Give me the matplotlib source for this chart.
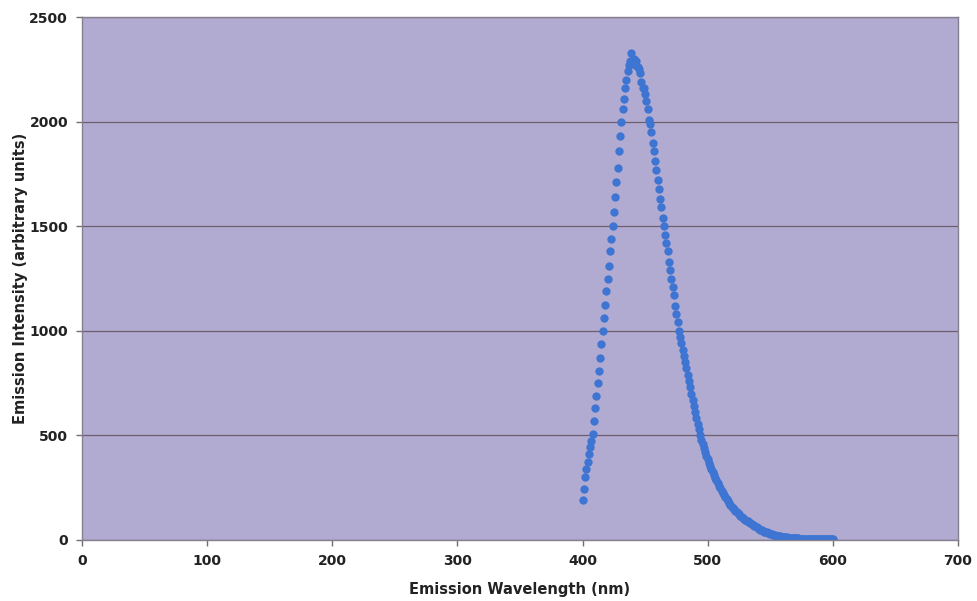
import matplotlib.pyplot as plt
import numpy as np

# Emission spectrum (1 nm steps, 400-600 nm)
wavelength = np.arange(400, 601)

rise = [190, 245, 300, 340, 375, 410, 445, 475, 505, 570,
        630, 690, 750, 810, 870, 935, 1000, 1060, 1125, 1190,
        1250, 1310, 1380, 1440, 1500, 1570, 1640, 1710, 1780, 1860,
        1930, 2000, 2060, 2110, 2160, 2200, 2240, 2270, 2290, 2330]
peak = [2280, 2300, 2270, 2290, 2260, 2250, 2230, 2190, 2160, 2160,
        2130, 2100, 2060, 2010, 1990]
fall = [1950, 1900, 1860, 1810, 1770, 1720, 1680, 1630, 1590, 1540,
        1500, 1460, 1420, 1380, 1330, 1290, 1250, 1210, 1170, 1120,
        1080, 1040, 1000, 970, 940, 910, 880, 850, 820, 790,
        760, 730, 700, 670, 640, 610, 585, 555, 530, 500]
tail = [480, 460, 440, 420, 400, 385, 370, 355, 340, 325,
        310, 297, 285, 272, 260, 248, 236, 225, 214, 204,
        194, 185, 176, 168, 160, 154, 147, 141, 135, 129,
        123, 117, 112, 107, 102, 97, 93, 89, 85, 81,
        77, 73, 69, 65, 61, 57, 53, 49, 46, 43,
        40, 38, 36, 34, 32, 30, 28, 26, 24, 22,
        20, 19, 18, 17, 16, 15, 14, 13, 12, 11,
        11, 10, 10, 9, 9, 8, 8, 8, 7, 7,
        7, 7, 6, 6, 6, 6, 5, 5, 5, 5,
        5, 4, 4, 4, 4, 4, 4, 3, 3, 3,
        3, 3, 3, 3, 3, 3]
intensity = np.array(rise + peak + fall + tail)

x_ticks = [0, 100, 200, 300, 400, 500, 600, 700]
y_ticks = [0, 500, 1000, 1500, 2000, 2500]

plt.rcParams['font.family'] = ['DejaVu Sans']

fig = plt.figure(figsize=(9.77, 6.01), dpi=100)
ax = fig.add_axes([0.0839, 0.1015, 0.8967, 0.8702])
ax.set_facecolor('#b1abd1')

# Gridlines at each major y tick
ax.yaxis.grid(True, color='#6c6070', linewidth=0.9)
ax.set_axisbelow(True)

ax.plot(wavelength, intensity, linestyle='none', marker='o',
        markersize=6, color='#3e74d2', markeredgewidth=0)

ax.set_xlim(0, 700)
ax.set_ylim(0, 2500)
ax.set_xticks(x_ticks)
ax.set_yticks(y_ticks)
ax.tick_params(axis='both', labelsize=10, length=4, color='#707070', width=1)
ax.tick_params(axis='y', pad=6)
ax.tick_params(axis='x', pad=6)
for lab in ax.get_xticklabels() + ax.get_yticklabels():
    lab.set_fontweight('bold')
    lab.set_color('#222222')

for side in ['left', 'bottom', 'right', 'top']:
    ax.spines[side].set_color('#857f90')
    ax.spines[side].set_linewidth(1.0)

ax.set_xlabel('Emission Wavelength (nm)', fontsize=10.5, fontweight='bold',
              color='#222222', labelpad=10)
ax.set_ylabel('Emission Intensity (arbitrary units)', fontsize=10.5,
              fontweight='bold', color='#222222', labelpad=1)

fig.savefig('out.png', dpi=100)
